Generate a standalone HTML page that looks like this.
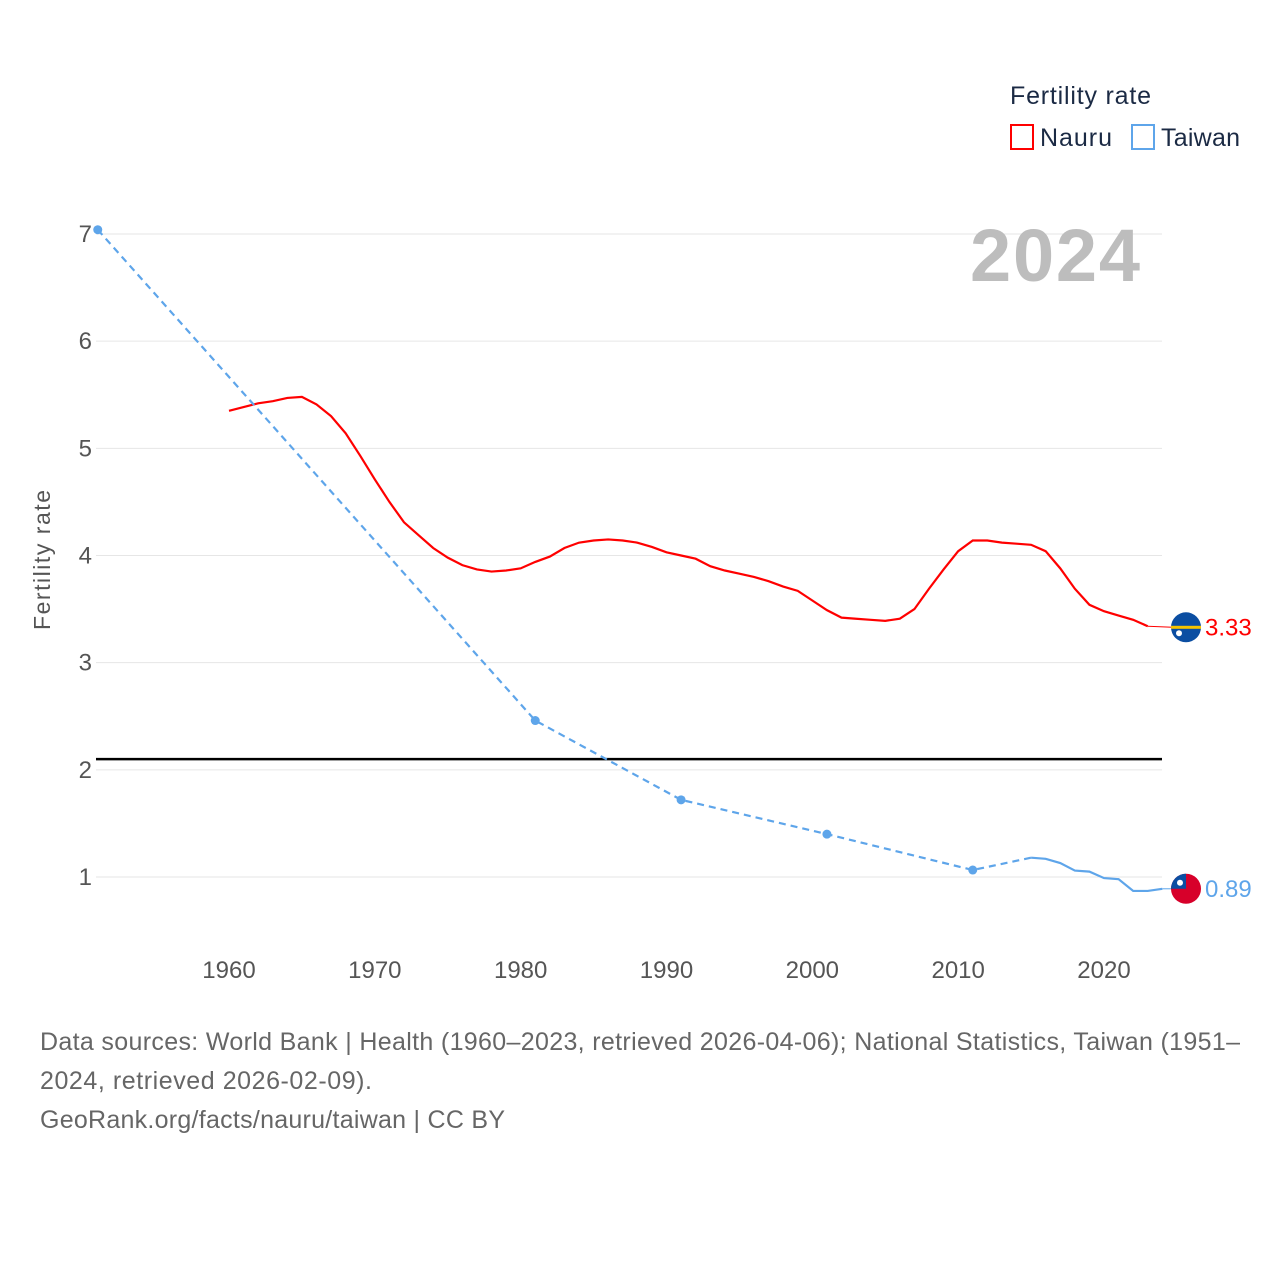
<!DOCTYPE html>
<html><head><meta charset="utf-8"><style>
body{margin:0;background:#fff;font-family:"Liberation Sans",sans-serif}
svg text{font-family:"Liberation Sans",sans-serif}
</style></head><body>
<svg id="c" width="1280" height="1280" viewBox="0 0 1280 1280">
<g id="grid"></g>
<g id="yt"></g>
<g id="xt"></g>
<text x="50" y="560" transform="rotate(-90 50 560)" text-anchor="middle" font-size="23" fill="#555" textLength="140">Fertility rate</text>
<text x="1140" y="281" text-anchor="end" font-size="74" font-weight="bold" fill="#bdbdbd" textLength="170">2024</text>
<g>
<text x="1010" y="104" font-size="25" fill="#1b2a44" textLength="141">Fertility rate</text>
<rect x="1011" y="125" width="22" height="24" fill="none" stroke="#f00" stroke-width="2"/>
<text x="1040" y="146" font-size="25" fill="#1b2a44" textLength="72">Nauru</text>
<rect x="1132" y="125" width="22" height="24" fill="none" stroke="#5ea5ea" stroke-width="2"/>
<text x="1161" y="146" font-size="25" fill="#1b2a44" textLength="79">Taiwan</text>
</g>
<g id="series"></g>
<text x="40" y="1050" font-size="25" fill="#666" textLength="1200">Data sources: World Bank | Health (1960–2023, retrieved 2026-04-06); National Statistics, Taiwan (1951–</text>
<text x="40" y="1089" font-size="25" fill="#666" textLength="332">2024, retrieved 2026-02-09).</text>
<text x="40" y="1128" font-size="25" fill="#666" textLength="465">GeoRank.org/facts/nauru/taiwan | CC BY</text>
</svg>
<script>
const yTicks=[1,2,3,4,5,6,7];
const xTicks=[1960,1970,1980,1990,2000,2010,2020];
const replacement=2.1;
const nauruYears=[1960,1962,1963,1964,1965,1966,1967,1968,1969,1970,1971,1972,1973,1974,1975,1976,1977,1978,1979,1980,1981,1982,1983,1984,1985,1986,1987,1988,1989,1990,1991,1992,1993,1994,1995,1996,1997,1998,1999,2000,2001,2002,2003,2004,2005,2006,2007,2008,2009,2010,2011,2012,2013,2014,2015,2016,2017,2018,2019,2020,2021,2022,2023];
const nauruValues=[5.35,5.42,5.44,5.47,5.48,5.41,5.30,5.14,4.93,4.71,4.50,4.31,4.19,4.07,3.98,3.91,3.87,3.85,3.86,3.88,3.94,3.99,4.07,4.12,4.14,4.15,4.14,4.12,4.08,4.03,4.00,3.97,3.90,3.86,3.83,3.80,3.76,3.71,3.67,3.58,3.49,3.42,3.41,3.40,3.39,3.41,3.50,3.69,3.87,4.04,4.14,4.14,4.12,4.11,4.10,4.04,3.88,3.69,3.54,3.48,3.44,3.40,3.34];
const nauruLatest=3.33;
const taiwanSparseYears=[1951,1981,1991,2001,2011,2015];
const taiwanSparseValues=[7.04,2.46,1.72,1.40,1.065,1.18];
const taiwanYears=[2015,2016,2017,2018,2019,2020,2021,2022,2023,2024];
const taiwanValues=[1.18,1.17,1.13,1.06,1.05,0.99,0.98,0.87,0.87,0.89];
const X=y=>229+(y-1960)*875/60;
const Y=v=>877-(v-1)*643/6;
const NS='http://www.w3.org/2000/svg';
function mk(t,p,a){const e=document.createElementNS(NS,t);for(const k in a)e.setAttribute(k,a[k]);p.appendChild(e);return e;}
const grid=document.getElementById('grid'),yt=document.getElementById('yt'),xt=document.getElementById('xt'),S=document.getElementById('series');
yTicks.forEach(v=>{
 const l=mk('line',grid,{x1:96,x2:1162,y1:Y(v),y2:Y(v),stroke:'#e6e6e6','stroke-width':1});
 
 
 const t=mk('text',yt,{x:92,y:Y(v)+8,'text-anchor':'end','font-size':24,fill:'#555'});t.textContent=v;
 
 
});
xTicks.forEach(v=>{
 const t=mk('text',xt,{x:X(v),y:978,'text-anchor':'middle','font-size':24,fill:'#555'});t.textContent=v;
 
 
});
const rl=mk('line',S,{x1:96,x2:1162,y1:Y(replacement),y2:Y(replacement),stroke:'#000','stroke-width':2.5});


const pts=(xs,vs)=>xs.map((y,i)=>X(y)+','+Y(vs[i])).join(' ');
const np=mk('polyline',S,{points:pts(nauruYears,nauruValues),fill:'none',stroke:'#f00','stroke-width':2.2});


const nl=mk('line',S,{x1:X(2023),y1:Y(nauruValues[nauruValues.length-1]),x2:X(2024)+10,y2:Y(nauruLatest),stroke:'#f00','stroke-width':1});


const td=mk('polyline',S,{points:pts(taiwanSparseYears,taiwanSparseValues),fill:'none',stroke:'#5ea5ea','stroke-width':2.2,'stroke-dasharray':'7,5'});


taiwanSparseYears.slice(0,5).forEach((y,i)=>{
 const c=mk('circle',S,{cx:X(y),cy:Y(taiwanSparseValues[i]),r:4.5,fill:'#5ea5ea'});
 
 
});
const ts=mk('polyline',S,{points:pts(taiwanYears,taiwanValues),fill:'none',stroke:'#5ea5ea','stroke-width':2.2});


const tl=mk('line',S,{x1:X(2024),y1:Y(taiwanValues[taiwanValues.length-1]),x2:X(2024)+10,y2:Y(taiwanValues[taiwanValues.length-1]),stroke:'#5ea5ea','stroke-width':1});


const fx=1186;
const ny=Y(nauruLatest);
const g1=mk('g',S,{});


mk('circle',g1,{cx:fx,cy:ny,r:15,fill:'#0b4ea2'});
mk('rect',g1,{x:fx-15,y:ny-1.5,width:30,height:3,fill:'#f5c400'});
mk('circle',g1,{cx:fx-7,cy:ny+6,r:3,fill:'#fff'});
const nt=mk('text',S,{x:1205,y:ny+8,'font-size':24,fill:'#f00'});nt.textContent=nauruLatest.toFixed(2);


const ty=Y(taiwanValues[taiwanValues.length-1]);
const g2=mk('g',S,{});


mk('circle',g2,{cx:fx,cy:ty,r:15,fill:'#d7002a'});
mk('path',g2,{d:`M${fx-15},${ty} A15,15 0 0 1 ${fx},${ty-15} L${fx},${ty} Z`,fill:'#0b4ea2'});
mk('circle',g2,{cx:fx-6,cy:ty-6,r:3,fill:'#fff'});
const tt=mk('text',S,{x:1205,y:ty+8,'font-size':24,fill:'#5ea5ea'});tt.textContent=taiwanValues[taiwanValues.length-1].toFixed(2);


</script>
</body></html>
